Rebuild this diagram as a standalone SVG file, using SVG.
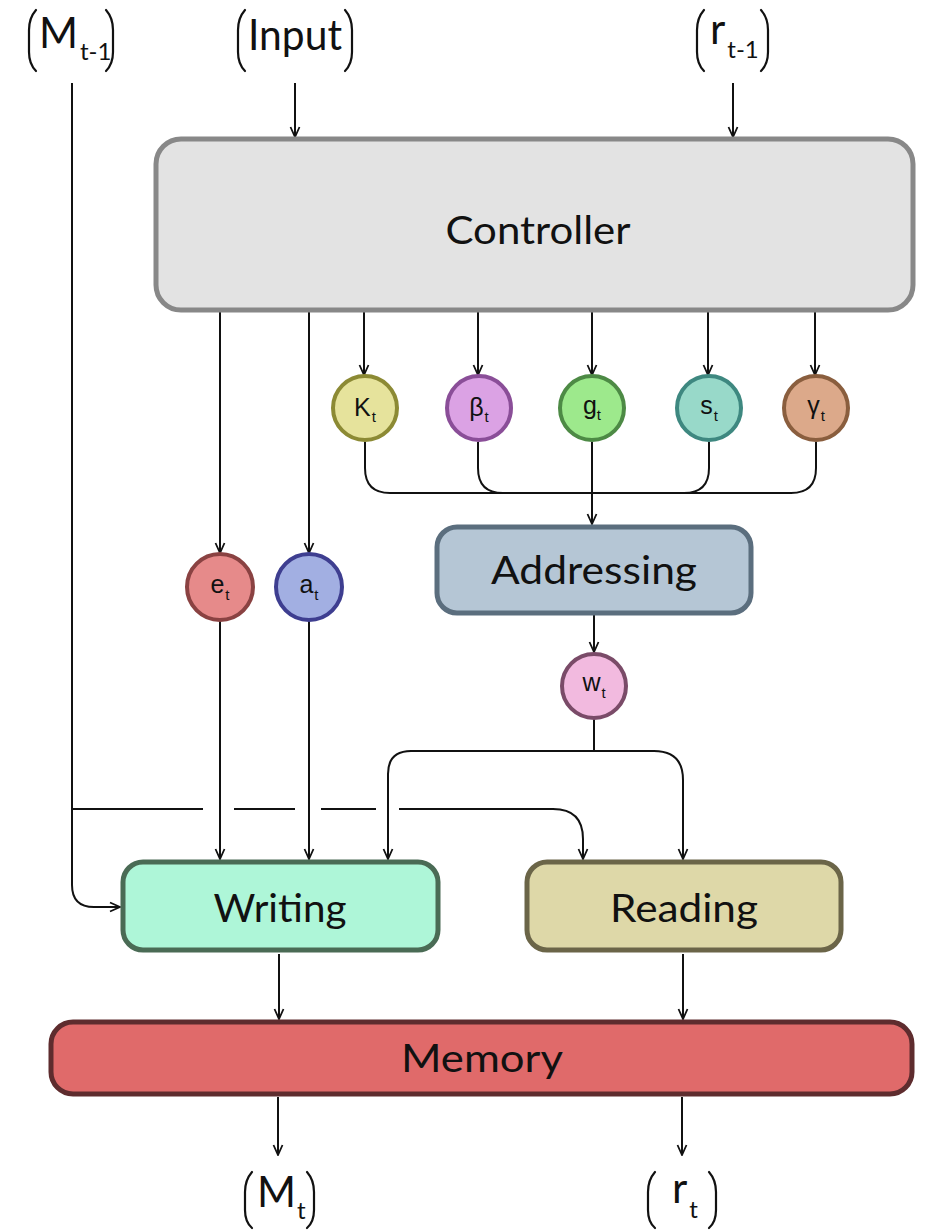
<svg xmlns="http://www.w3.org/2000/svg" width="928" height="1231" viewBox="0 0 928 1231">
  <defs>
    <marker id="arr" viewBox="0 0 12 12" refX="11" refY="6" markerWidth="12" markerHeight="12" markerUnits="userSpaceOnUse" orient="auto">
      <path d="M1,1.5 L11,6 L1,10.5" fill="none" stroke="#111" stroke-width="1.8" stroke-linejoin="miter"/>
    </marker>
    <style>
      .bg { fill: #ffffff; }
      .wire { fill: none; stroke: #111; stroke-width: 2; }
      .arrow { fill: none; stroke: #111; stroke-width: 2; marker-end: url(#arr); }
      .box { stroke-width: 5; }
      .blabel { font-family: Lato, Inter, "Liberation Sans", sans-serif; font-size: 38px; fill: #111; text-anchor: middle; }
      .clabel { font-family: "Liberation Sans", Arial, sans-serif; font-size: 25px; fill: #111; text-anchor: middle; }
      .sub { font-size: 15px; }
      .term { font-family: Lato, "Open Sans", "Liberation Sans", sans-serif; font-size: 42px; fill: #111; }
      .tsub { font-size: 24px; }
      .brk { fill: none; stroke: #111; stroke-width: 2.2; stroke-linecap: round; }
      .node { stroke-width: 4; }
    </style>
  </defs>

  <rect class="bg" x="0" y="0" width="928" height="1231"/>

  <!-- terminal labels with matrix-style brackets -->
  <g id="in-mem-prev">
    <path class="brk" d="M36,10 Q29,18 29,30 L29,52 Q29,64 36,71"/>
    <text class="term" x="39" y="48">M<tspan class="tsub" dx="2" dy="12">t-1</tspan></text>
    <path class="brk" d="M106,10 Q113,18 113,30 L113,52 Q113,64 106,71"/>
  </g>
  <g id="in-input">
    <path class="brk" d="M245,10 Q238,18 238,30 L238,52 Q238,64 245,71"/>
    <text class="term" x="295" y="50" text-anchor="middle" textLength="94" lengthAdjust="spacingAndGlyphs">Input</text>
    <path class="brk" d="M345,10 Q352,18 352,30 L352,52 Q352,64 345,71"/>
  </g>
  <g id="in-read-prev">
    <path class="brk" d="M704,10 Q697,18 697,30 L697,52 Q697,64 704,71"/>
    <text class="term" x="710" y="44">r<tspan class="tsub" dx="2" dy="14">t-1</tspan></text>
    <path class="brk" d="M761,10 Q768,18 768,30 L768,52 Q768,64 761,71"/>
  </g>
  <g id="out-mem">
    <path class="brk" d="M252,1172 Q245,1180 245,1192 L245,1210 Q245,1222 252,1228"/>
    <text class="term" x="257" y="1207" font-size="38">M<tspan class="tsub" dx="1" dy="12" font-size="22">t</tspan></text>
    <path class="brk" d="M307,1172 Q314,1180 314,1192 L314,1210 Q314,1222 307,1228"/>
  </g>
  <g id="out-read">
    <path class="brk" d="M655,1172 Q648,1180 648,1192 L648,1210 Q648,1222 655,1228"/>
    <text class="term" x="672" y="1203" font-size="38">r<tspan class="tsub" dx="2" dy="15" font-size="22">t</tspan></text>
    <path class="brk" d="M709,1172 Q716,1180 716,1192 L716,1210 Q716,1222 709,1228"/>
  </g>

  <!-- connectors -->
  <g id="connectors">
    <!-- inputs into the controller -->
    <line class="arrow" x1="295" y1="83" x2="295" y2="137"/>
    <line class="arrow" x1="733" y1="83" x2="733" y2="137"/>

    <!-- controller outputs -->
    <line class="arrow" x1="220" y1="311" x2="220" y2="553"/>
    <line class="arrow" x1="309" y1="311" x2="309" y2="553"/>
    <line class="arrow" x1="364" y1="311" x2="364" y2="375"/>
    <line class="arrow" x1="478" y1="311" x2="478" y2="375"/>
    <line class="arrow" x1="592" y1="311" x2="592" y2="375"/>
    <line class="arrow" x1="708" y1="311" x2="708" y2="375"/>
    <line class="arrow" x1="815" y1="311" x2="815" y2="375"/>

    <!-- addressing parameters merge into one bus -->
    <path class="wire" d="M365,442 L365,468 Q365,493 390,493 L792,493"/>
    <path class="wire" d="M478,442 L478,468 Q478,493 503,493"/>
    <path class="wire" d="M709,442 L709,468 Q709,493 684,493"/>
    <path class="wire" d="M816,442 L816,468 Q816,493 791,493"/>
    <line class="arrow" x1="592" y1="442" x2="592" y2="524"/>

    <!-- addressing to weighting -->
    <line class="arrow" x1="594" y1="615" x2="594" y2="652"/>

    <!-- weighting split to writing and reading -->
    <path class="wire" d="M594,719 L594,751"/>
    <path class="arrow" d="M594,751 L411,751 Q388,751 388,774 L388,859"/>
    <path class="arrow" d="M594,751 L654,751 Q683,751 683,780 L683,859"/>

    <!-- erase and add vectors to writing -->
    <line class="arrow" x1="220" y1="621" x2="220" y2="859"/>
    <line class="arrow" x1="309" y1="621" x2="309" y2="859"/>

    <!-- previous memory into writing -->
    <path class="arrow" d="M72,83 L72,885 Q72,907 94,907 L120,907"/>

    <!-- previous memory into reading, hopping over crossing wires -->
    <line class="wire" x1="72" y1="809" x2="203" y2="809"/>
    <line class="wire" x1="234" y1="809" x2="295" y2="809"/>
    <line class="wire" x1="321" y1="809" x2="376" y2="809"/>
    <path class="arrow" d="M399,809 L553,809 Q583,809 583,839 L583,859"/>

    <!-- writing / reading into memory -->
    <line class="arrow" x1="279" y1="954" x2="279" y2="1019"/>
    <line class="arrow" x1="683" y1="954" x2="683" y2="1019"/>

    <!-- memory outputs -->
    <line class="arrow" x1="278" y1="1097" x2="278" y2="1155"/>
    <line class="arrow" x1="682" y1="1097" x2="682" y2="1155"/>
  </g>

  <!-- main blocks -->
  <g id="controller">
    <rect class="box" x="156" y="139" width="757" height="171" rx="25" fill="#e3e3e3" stroke="#888888"/>
    <text class="blabel" x="538" y="244" textLength="185" lengthAdjust="spacingAndGlyphs">Controller</text>
  </g>

  <g id="addressing">
    <rect class="box" x="437" y="527" width="314" height="86" rx="20" fill="#b5c6d5" stroke="#5b6e7e"/>
    <text class="blabel" x="594" y="584" font-size="35" textLength="206" lengthAdjust="spacingAndGlyphs">Addressing</text>
  </g>

  <g id="writing">
    <rect class="box" x="123" y="862" width="315" height="88" rx="20" fill="#aef6d8" stroke="#4a6b55"/>
    <text class="blabel" x="280" y="922" textLength="133" lengthAdjust="spacingAndGlyphs">Writing</text>
  </g>

  <g id="reading">
    <rect class="box" x="527" y="862" width="314" height="88" rx="20" fill="#ded8a8" stroke="#6b6548"/>
    <text class="blabel" x="684" y="922" textLength="148" lengthAdjust="spacingAndGlyphs">Reading</text>
  </g>

  <g id="memory">
    <rect class="box" x="51" y="1022" width="861" height="72" rx="22" fill="#e06a6a" stroke="#5e2c2e"/>
    <text class="blabel" x="482" y="1072" textLength="162" lengthAdjust="spacingAndGlyphs">Memory</text>
  </g>

  <!-- parameter nodes -->
  <g id="node-k">
    <circle class="node" cx="365" cy="408" r="32" fill="#e6e39c" stroke="#8c8a34"/>
    <text class="clabel" x="365" y="416">K<tspan class="sub" dx="1" dy="6">t</tspan></text>
  </g>
  <g id="node-beta">
    <circle class="node" cx="479" cy="408" r="32" fill="#dba2e4" stroke="#8a4e98"/>
    <text class="clabel" x="479" y="416">β<tspan class="sub" dx="1" dy="6">t</tspan></text>
  </g>
  <g id="node-g">
    <circle class="node" cx="592" cy="408" r="32" fill="#9de98c" stroke="#4d8a45"/>
    <text class="clabel" x="592" y="414">g<tspan class="sub" dx="0" dy="6">t</tspan></text>
  </g>
  <g id="node-s">
    <circle class="node" cx="709" cy="408" r="32" fill="#98d9c9" stroke="#3e8880"/>
    <text class="clabel" x="709" y="414">s<tspan class="sub" dx="1" dy="7">t</tspan></text>
  </g>
  <g id="node-gamma">
    <circle class="node" cx="816" cy="408" r="32" fill="#dca98a" stroke="#8a5e3e"/>
    <text class="clabel" x="816" y="414">γ<tspan class="sub" dx="1" dy="7">t</tspan></text>
  </g>
  <g id="node-e">
    <circle class="node" cx="220" cy="587" r="33" fill="#e68a8a" stroke="#8a4242"/>
    <text class="clabel" x="220" y="593">e<tspan class="sub" dx="1" dy="7">t</tspan></text>
  </g>
  <g id="node-a">
    <circle class="node" cx="309" cy="587" r="33" fill="#a2afe2" stroke="#3e3e90"/>
    <text class="clabel" x="309" y="593">a<tspan class="sub" dx="1" dy="7">t</tspan></text>
  </g>
  <g id="node-w">
    <circle class="node" cx="594" cy="686" r="32" fill="#f2badf" stroke="#7a4b68"/>
    <text class="clabel" x="594" y="691">w<tspan class="sub" dx="1" dy="7">t</tspan></text>
  </g>
</svg>
